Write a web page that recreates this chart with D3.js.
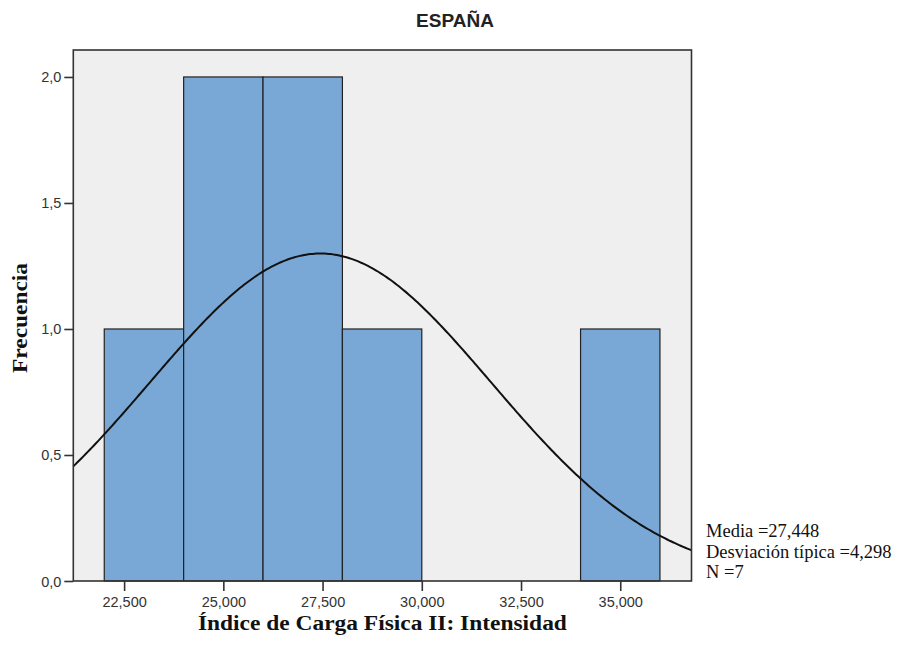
<!DOCTYPE html>
<html>
<head>
<meta charset="utf-8">
<script src="https://cdn.jsdelivr.net/npm/d3@7"></script>
<style>
    html, body { margin: 0; padding: 0; background: #ffffff; }
</style>
</head>
<body>
<div id="chart"></div>
<script>
// histogram bins (edges) and frequencies
const binEdges = [22, 24, 26, 28, 30, 32, 34, 36];
const counts = [1, 2, 2, 1, 0, 0, 1];

const xTicks = [22.5, 25, 27.5, 30, 32.5, 35];
const yTicks = [0, 0.5, 1, 1.5, 2];

// stats shown in the legend
const media = 27.448;
const desviacion = 4.298;
const n = 7;
const legendLines = ["Media =27,448", "Desviación típica =4,298", "N =7"];

const width = 905, height = 648;
const margin = { top: 50, right: 213.5, bottom: 67, left: 73.3 };
const innerWidth = width - margin.left - margin.right;
const innerHeight = height - margin.top - margin.bottom;

const es = d3.formatLocale({ decimal: ",", thousands: ".", grouping: [3], currency: ["", " €"] });

const svg = d3.select("#chart").append("svg")
    .attr("width", width)
    .attr("height", height);

const g = svg.append("g")
    .attr("transform", `translate(${margin.left},${margin.top})`);

const x = d3.scaleLinear()
    .domain([21.22, 36.795])
    .range([0, innerWidth]);

const y = d3.scaleLinear()
    .domain([0, 2.107])
    .range([innerHeight, 0]);

// plot background
g.append("rect")
    .attr("width", innerWidth)
    .attr("height", innerHeight)
    .attr("fill", "#efefef");

// bars
const bins = counts.map((c, i) => ({ x0: binEdges[i], x1: binEdges[i + 1], count: c }))
    .filter(d => d.count > 0);

g.selectAll("rect.bar")
    .data(bins)
    .enter()
    .append("rect")
    .attr("class", "bar")
    .attr("x", d => x(d.x0))
    .attr("y", d => y(d.count))
    .attr("width", d => x(d.x1) - x(d.x0))
    .attr("height", d => y(0) - y(d.count))
    .attr("fill", "#79a8d6")
    .attr("stroke", "#222")
    .attr("stroke-width", 1.2);

// normal curve with the legend's mean / sd, scaled to counts
const binWidth = binEdges[1] - binEdges[0];
const normal = v => n * binWidth / (desviacion * Math.sqrt(2 * Math.PI)) *
    Math.exp(-0.5 * Math.pow((v - media) / desviacion, 2));

const curvePts = d3.range(0, 301).map(i => {
    const v = x.domain()[0] + (x.domain()[1] - x.domain()[0]) * i / 300;
    return [v, normal(v)];
});

g.append("path")
    .datum(curvePts)
    .attr("fill", "none")
    .attr("stroke", "#111")
    .attr("stroke-width", 2)
    .attr("d", d3.line().x(d => x(d[0])).y(d => y(d[1])));

// frame
g.append("rect")
    .attr("width", innerWidth)
    .attr("height", innerHeight)
    .attr("fill", "none")
    .attr("stroke", "#333")
    .attr("stroke-width", 1.6);

// axes
const xAxis = g.append("g")
    .attr("transform", `translate(0,${innerHeight})`)
    .call(d3.axisBottom(x).tickValues(xTicks).tickFormat(es.format(",.3f")).tickSize(10).tickPadding(5));

const yAxis = g.append("g")
    .call(d3.axisLeft(y).tickValues(yTicks).tickFormat(es.format(".1f")).tickSize(9).tickPadding(3));

[xAxis, yAxis].forEach(ax => {
    ax.attr("font-family", "Arial, 'Liberation Sans', sans-serif")
        .attr("font-size", 14.5)
        .attr("fill", "#333");
    ax.select(".domain").remove();
    ax.selectAll("line").attr("stroke", "#333").attr("stroke-width", 1.6);
    ax.selectAll("text").attr("fill", "#333");
});
// pixel offsets instead of em
xAxis.selectAll("text").attr("dy", 10.5);
yAxis.selectAll("text").attr("dy", 5);

// title
svg.append("text")
    .attr("x", 455)
    .attr("y", 27)
    .attr("text-anchor", "middle")
    .attr("font-family", "Arial, 'Liberation Sans', sans-serif")
    .attr("font-weight", "bold")
    .attr("font-size", 19)
    .attr("fill", "#222")
    .text("ESPAÑA");

// axis titles
svg.append("text")
    .attr("x", margin.left + innerWidth / 2)
    .attr("y", 630)
    .attr("text-anchor", "middle")
    .attr("font-family", "'Liberation Serif', 'Times New Roman', serif")
    .attr("font-weight", "bold")
    .attr("font-size", 20)
    .attr("textLength", 369)
    .attr("lengthAdjust", "spacingAndGlyphs")
    .attr("fill", "#111")
    .text("Índice de Carga Física II: Intensidad");

svg.append("text")
    .attr("transform", "translate(27,318) rotate(-90)")
    .attr("text-anchor", "middle")
    .attr("font-family", "'Liberation Serif', 'Times New Roman', serif")
    .attr("font-weight", "bold")
    .attr("font-size", 20)
    .attr("textLength", 110)
    .attr("lengthAdjust", "spacingAndGlyphs")
    .attr("fill", "#111")
    .text("Frecuencia");

// legend text at right
svg.append("g")
    .selectAll("text")
    .data(legendLines)
    .enter()
    .append("text")
    .attr("x", 706)
    .attr("y", (d, i) => 537 + i * 20.5)
    .attr("font-family", "'Liberation Serif', 'Times New Roman', serif")
    .attr("font-size", 18.5)
    .attr("fill", "#111")
    .text(d => d);
</script>
</body>
</html>
